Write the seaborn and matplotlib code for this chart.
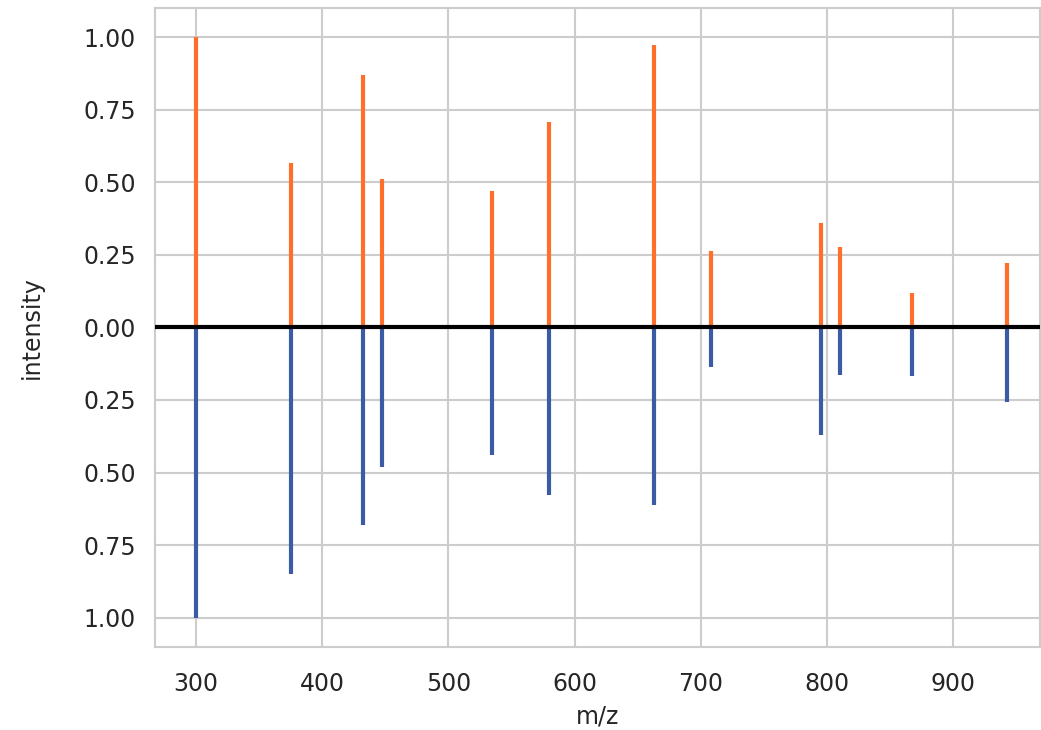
import numpy as np
import pandas as pd
import seaborn as sns
import matplotlib
matplotlib.use('Agg')
import matplotlib.pyplot as plt
from matplotlib.ticker import FuncFormatter

# peak positions (m/z) and relative intensities
mz = [300.0, 375.3, 432.5, 447.6, 534.8, 579.7, 662.9, 708.1, 795.3, 810.3, 867.4, 942.6]
top_intensity = [1.00, 0.567, 0.868, 0.512, 0.47, 0.706, 0.972, 0.263, 0.36, 0.277, 0.118, 0.221]
bottom_intensity = [1.00, 0.85, 0.68, 0.48, 0.44, 0.578, 0.612, 0.138, 0.37, 0.163, 0.166, 0.256]

sns.set_theme(style='whitegrid')
plt.rcParams['font.family'] = ['DejaVu Sans']

fig = plt.figure(figsize=(10.41, 7.3), dpi=100)
ax = fig.add_axes([0.149, 0.114, 0.85, 0.875])

df = pd.DataFrame({'mz': mz, 'top': top_intensity, 'bottom': bottom_intensity})

ax.vlines(df['mz'], 0, df['top'], color='#ff6f2b', linewidth=3, zorder=3)
ax.vlines(df['mz'], 0, -df['bottom'], color='#3b5ba5', linewidth=3, zorder=3)
ax.axhline(0, color='black', linewidth=3, zorder=4)

ax.set_xlim(267.5, 969)
ax.set_ylim(-1.1, 1.1)
ax.set_yticks(np.arange(-1.0, 1.01, 0.25))
ax.set_xticks(range(300, 901, 100))
ax.yaxis.set_major_formatter(FuncFormatter(lambda v, p: f'{abs(v):.2f}'))

ax.set_xlabel('m/z', fontsize=17, labelpad=6)
ax.set_ylabel('intensity', fontsize=17, labelpad=28)
ax.tick_params(axis='x', labelsize=17, pad=18, length=0)
ax.tick_params(axis='y', labelsize=17, pad=14, length=0)
for s in ax.spines.values():
    s.set_color('#cccccc')
    s.set_linewidth(1.5)
ax.grid(True, color='#cccccc', linewidth=1.5)

plt.savefig('out.png', dpi=100)
